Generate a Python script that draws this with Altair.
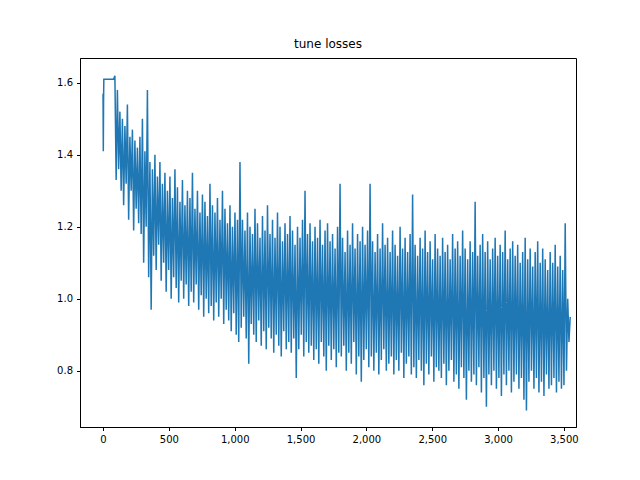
import altair as alt
import pandas as pd

head_x = [0, 2, 4, 6, 80]
head_y = [1.57, 1.41, 1.55, 1.61, 1.61]

body_y = [
1.62,1.33,1.58,1.36,1.52,1.30,1.50,1.26,1.48,1.32,1.54,1.22,1.45,1.30,1.47,1.19,1.44,1.25,1.42,1.21,
1.45,1.18,1.50,1.10,1.41,1.20,1.58,1.06,1.38,0.97,1.36,1.12,1.40,1.08,1.34,1.15,1.38,1.05,1.32,1.10,
1.35,1.02,1.30,1.08,1.34,1.00,1.28,1.06,1.36,1.03,1.31,0.99,1.27,1.05,1.33,1.00,1.26,1.04,1.30,0.98,
1.28,1.02,1.35,0.99,1.25,1.04,1.30,0.97,1.24,1.01,1.29,0.95,1.27,1.00,1.23,0.96,1.32,0.98,1.26,0.94,
1.24,0.99,1.28,0.95,1.22,1.00,1.30,0.93,1.25,0.97,1.21,0.94,1.26,0.91,1.20,0.96,1.24,0.90,1.22,0.88,
1.38,0.92,1.22,0.95,1.19,0.89,1.24,0.82,1.20,0.93,1.18,0.90,1.25,0.88,1.21,0.94,1.17,0.87,1.23,0.91,
1.19,0.86,1.26,0.92,1.18,0.89,1.22,0.85,1.17,0.90,1.24,0.87,1.20,0.84,1.16,0.91,1.21,0.86,1.18,0.88,
1.23,0.85,1.19,0.89,1.15,0.78,1.20,0.86,1.17,0.90,1.22,0.84,1.30,0.88,1.18,0.85,1.21,0.87,1.16,0.83,
1.20,0.86,1.17,0.82,1.22,0.88,1.15,0.84,1.19,0.80,1.21,0.87,1.16,0.83,1.18,0.86,1.14,0.81,1.20,0.85,
1.32,0.84,1.17,0.87,1.13,0.80,1.19,0.85,1.15,0.82,1.21,0.88,1.14,0.79,1.18,0.84,1.16,0.77,1.20,0.83,
1.15,0.86,1.19,0.81,1.32,0.84,1.16,0.80,1.13,0.85,1.18,0.79,1.14,0.83,1.21,0.86,1.15,0.80,1.17,0.82,
1.13,0.84,1.19,0.79,1.15,0.83,1.12,0.80,1.20,0.85,1.14,0.78,1.17,0.82,1.13,0.84,1.18,0.79,1.29,0.81,
1.15,0.78,1.12,0.83,1.17,0.80,1.14,0.76,1.19,0.82,1.13,0.79,1.16,0.84,1.11,0.77,1.18,0.81,1.14,0.80,
1.12,0.78,1.17,0.82,1.13,0.76,1.15,0.80,1.11,0.83,1.18,0.77,1.14,0.79,1.16,0.75,1.12,0.81,1.19,0.78,
1.14,0.72,1.11,0.80,1.16,0.77,1.13,0.79,1.27,0.76,1.12,0.81,1.15,0.74,1.18,0.78,1.13,0.70,1.16,0.79,
1.11,0.76,1.14,0.80,1.17,0.75,1.12,0.78,1.15,0.73,1.13,0.79,1.19,0.76,1.11,0.80,1.14,0.74,1.16,0.77,
1.12,0.79,1.15,0.75,1.10,0.78,1.13,0.72,1.17,0.69,1.11,0.77,1.14,0.80,1.09,0.75,1.13,0.78,1.16,0.74,
1.10,0.77,1.14,0.73,1.11,0.79,1.08,0.75,1.13,0.76,1.10,0.78,1.15,0.74,1.09,0.77,1.12,0.75,1.08,0.76,
1.21,0.80,1.00,0.88,0.95,
]
body_x = [90 + 9.5 * i for i in range(len(body_y))]

df = pd.DataFrame({"step": head_x + body_x, "loss": head_y + body_y})

ax_common = dict(title=None, grid=False, labelFontSize=10, labelColor="black", tickColor="black",
                 domainColor="black", labelFont="DejaVu Sans", labelPadding=4, tickSize=3.5)

chart = alt.Chart(df).mark_line(color="#1f77b4", strokeWidth=1.5, clip=True).encode(
    x=alt.X("step:Q", scale=alt.Scale(domain=[-175, 3592], nice=False, zero=False),
            axis=alt.Axis(values=[0,500,1000,1500,2000,2500,3000,3500], **ax_common)),
    y=alt.Y("loss:Q", scale=alt.Scale(domain=[0.644, 1.669], nice=False, zero=False),
            axis=alt.Axis(values=[0.8,1.0,1.2,1.4,1.6], format=".1f", **ax_common)),
).properties(
    width=496, height=369,
    title=alt.TitleParams("tune losses", font="DejaVu Sans", fontSize=12, fontWeight="normal", offset=7),
    autosize=alt.AutoSizeParams(type="none"),
    padding={"left": 72, "top": 50, "right": 50, "bottom": 40},
).configure_view(stroke="black", strokeWidth=1)

chart.save("out.html", embed_options={"renderer": "svg", "actions": False})
